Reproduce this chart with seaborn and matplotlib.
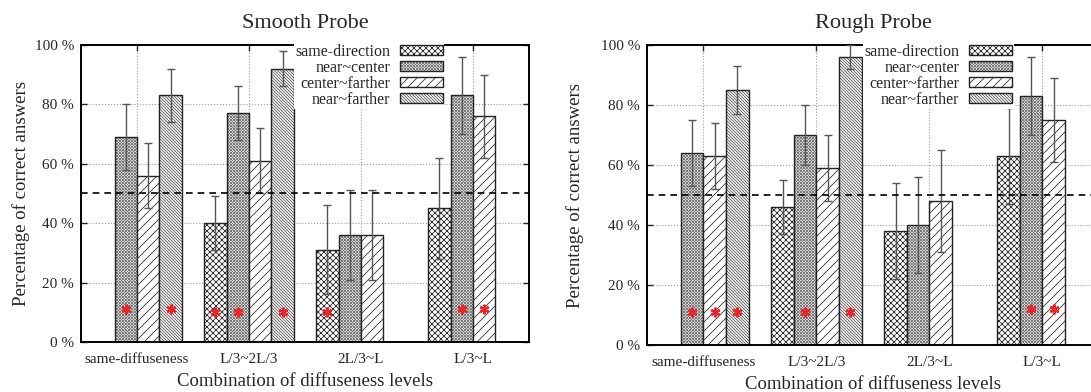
import numpy as np
import pandas as pd
import matplotlib
matplotlib.use('Agg')
import matplotlib.pyplot as plt
import matplotlib.colors as mcolors
import seaborn as sns

nan = np.nan

categories = ['same-diffuseness', 'L/3~2L/3', '2L/3~L', 'L/3~L']
series = ['same-direction', 'near~center', 'center~farther', 'near~farther']
hatches = ['x' * 6, 'x' * 12, '/' * 4, '\\' * 12]
hatch_colors = ['#333333', '#7a7a7a', '#333333', '#555555']

# Smooth probe: bar heights, error bar low / high, significance marks
smooth_same_dir = [nan, 40, 31, 45]
smooth_near_center = [69, 77, 36, 83]
smooth_center_farther = [56, 61, 36, 76]
smooth_near_farther = [83, 92, nan, nan]
smooth_lo = [[nan, 31, 16, 28], [58, 68, 21, 70], [45, 50, 21, 62], [74, 86, nan, nan]]
smooth_hi = [[nan, 49, 46, 62], [80, 86, 51, 96], [67, 72, 51, 90], [92, 98, nan, nan]]
smooth_stars = [[0, 1, 1, 0], [1, 1, 0, 1], [0, 0, 0, 1], [1, 1, 0, 0]]
smooth_star_y = [11, 10, 10, 11]

# Rough probe
rough_same_dir = [nan, 46, 38, 63]
rough_near_center = [64, 70, 40, 83]
rough_center_farther = [63, 59, 48, 75]
rough_near_farther = [85, 96, nan, nan]
rough_lo = [[nan, 37, 22, 47], [53, 60, 24, 70], [52, 48, 31, 61], [77, 92, nan, nan]]
rough_hi = [[nan, 55, 54, 79], [75, 80, 56, 96], [74, 70, 65, 89], [93, 100, nan, nan]]
rough_stars = [[0, 0, 0, 0], [1, 1, 0, 1], [1, 0, 0, 1], [1, 1, 0, 0]]
rough_star_y = [11, 11, 11, 12]

# 108 dpi so the hatch cell is 108 px and the dense patterns land on whole pixels
DPI = 108
k = 100 / DPI  # keep sizes as they looked at 100 dpi

sns.set_style('ticks')
plt.rcParams['font.family'] = ['Liberation Serif', 'DejaVu Serif']
plt.rcParams['hatch.linewidth'] = 0.6 * k


def draw_panel(ax, title, values, lo, hi, stars, star_y, ylabelpad):
    rows = []
    for s, vals in zip(series, values):
        for c, v in zip(categories, vals):
            if not np.isnan(v):
                rows.append({'cat': c, 'val': v, 'series': s})
    df = pd.DataFrame(rows)

    sns.barplot(data=df, x='cat', y='val', hue='series', order=categories,
                hue_order=series, errorbar=None, palette=['white'] * 4,
                edgecolor='#222222', linewidth=1.0 * k, saturation=1,
                legend=False, ax=ax, zorder=2)

    bar_conts = list(ax.containers)
    for j, cont in enumerate(bar_conts):
        present = [i for i, v in enumerate(values[j]) if not np.isnan(v)]
        xs, ys, los, his, sx, sy = [], [], [], [], [], []
        for bar, i in zip(cont.patches, present):
            bar.set_hatch(hatches[j])
            bar._hatch_color = mcolors.to_rgba(hatch_colors[j])
            xc = bar.get_x() + bar.get_width() / 2
            xs.append(xc)
            ys.append(values[j][i])
            los.append(values[j][i] - lo[j][i])
            his.append(hi[j][i] - values[j][i])
            if stars[j][i]:
                sx.append(xc)
                sy.append(star_y[i])
        ax.errorbar(xs, ys, yerr=[los, his], fmt='none', ecolor='#555555',
                    elinewidth=1.0 * k, capsize=3 * k, capthick=1.0 * k, zorder=3)
        ax.plot(sx, sy, linestyle='none', marker=(6, 2, 0), markersize=7 * k,
                markeredgewidth=1.6 * k, color='#e8262a', zorder=4)

    ax.axhline(50, color='black', linestyle=(0, (4, 3)), linewidth=1.2 * k, zorder=5)

    ax.set_ylim(0, 100)
    ax.set_xlim(-0.5, 3.5)
    ax.set_yticks([0, 20, 40, 60, 80, 100])
    ax.set_yticklabels([f'{t} %' for t in range(0, 101, 20)])
    ax.set_axisbelow(True)
    ax.grid(True, color='#999999', linestyle=':', linewidth=0.8 * k)
    ax.tick_params(direction='in', top=True, right=True, length=4 * k,
                   labelsize=11 * k, width=1.0 * k)
    ax.tick_params(axis='x', pad=8 * k)
    ax.tick_params(axis='y', pad=5 * k)
    for sp in ax.spines.values():
        sp.set_visible(True)
        sp.set_linewidth(1.4 * k)
        sp.set_color('black')
    ax.set_title(title, fontsize=16 * k, pad=12 * k)
    ax.set_xlabel('Combination of diffuseness levels', fontsize=13.5 * k, labelpad=5 * k)
    ax.set_ylabel('Percentage of correct answers', fontsize=13.5 * k, labelpad=ylabelpad * k)

    leg = ax.legend(handles=bar_conts, labels=series, loc='upper right',
                    bbox_to_anchor=(0.815, 1.015), markerfirst=False, fontsize=11.5 * k,
                    frameon=True, framealpha=1, facecolor='white', edgecolor='none',
                    fancybox=False, borderpad=0.1, labelspacing=0.0,
                    handlelength=2.7, handleheight=0.6, handletextpad=0.6,
                    borderaxespad=0.1)
    leg.set_zorder(6)


fig = plt.figure(figsize=(1091 / DPI, 392 / DPI), dpi=DPI)
ax1 = fig.add_axes([0.0742, 0.1276, 0.4106, 0.758])
ax2 = fig.add_axes([0.593, 0.1200, 0.4143, 0.765])

draw_panel(ax1, 'Smooth Probe',
           [smooth_same_dir, smooth_near_center, smooth_center_farther, smooth_near_farther],
           smooth_lo, smooth_hi, smooth_stars, smooth_star_y, 3)
draw_panel(ax2, 'Rough Probe',
           [rough_same_dir, rough_near_center, rough_center_farther, rough_near_farther],
           rough_lo, rough_hi, rough_stars, rough_star_y, 12)

fig.savefig('out.png', dpi=DPI)
plt.close(fig)
